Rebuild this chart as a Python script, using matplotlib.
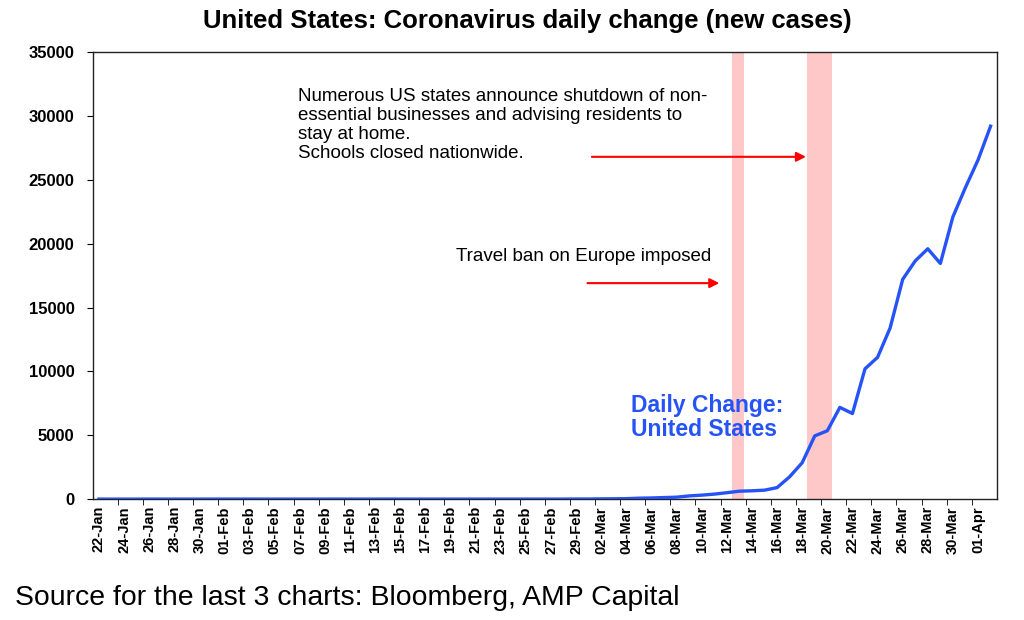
import numpy as np
import pandas as pd
from matplotlib import pyplot as plt

plt.rcParams['font.family'] = ['Liberation Sans', 'DejaVu Sans']

# dates 22-Jan .. 02-Apr 2020
dates = pd.date_range('2020-01-22', '2020-04-02', freq='D')
date_labels = [d.strftime('%d-%b') for d in dates]

# daily new cases
new_cases = [0, 0, 0, 0, 2, 0, 0, 0, 0, 1,
             1, 0, 3, 0, 0, 0, 0, 0, 0, 1,
             0, 0, 0, 1, 0, 0, 0, 0, 0, 0,
             0, 0, 0, 0, 0, 0, 0, 0, 8, 6,
             20, 25, 35, 70, 90, 120, 150, 250, 310, 390,
             500, 620, 650, 700, 900, 1750, 2850, 4950, 5350, 7180,
             6700, 10200, 11100, 13400, 17200, 18650, 19600, 18450, 22100, 24400,
             26550, 29200]

# shaded event periods (category positions)
band_start = [50.4, 56.35]
band_end = [51.35, 58.4]

blue = '#2553F5'

fig = plt.figure(figsize=(10.24, 6.2), dpi=100)
ax = fig.add_axes([0.0905, 0.195, 0.883, 0.721])

x = np.arange(len(new_cases))
for s, e in zip(band_start, band_end):
    ax.axvspan(s, e, color='#FFC8C8', lw=0, zorder=1)
ax.plot(x, new_cases, color=blue, lw=2.4, zorder=3)

ax.set_xlim(-0.5, len(new_cases) - 0.5)
ax.set_ylim(0, 35000)
ax.set_yticks(np.arange(0, 35001, 5000))
ax.tick_params(axis='y', direction='out', length=4, labelsize=12, pad=9)
for lab in ax.get_yticklabels():
    lab.set_fontweight('bold')

ax.set_xticks(x[::2])
ax.set_xticklabels(date_labels[::2], rotation=90, fontsize=10.5, fontweight='bold')
ax.set_xticks(np.arange(1.5, len(new_cases) - 1, 2), minor=True)
ax.tick_params(axis='x', which='major', length=0, pad=5)
ax.tick_params(axis='x', which='minor', direction='out', length=4)

for sp in ax.spines.values():
    sp.set_linewidth(1.0)
    sp.set_color('#222222')

ax.text(15.85, 29300,
        'Numerous US states announce shutdown of non-\n'
        'essential businesses and advising residents to\n'
        'stay at home.\nSchools closed nationwide.',
        fontsize=13.5, va='center', ha='left', linespacing=1.17)
ax.text(28.4, 19030, 'Travel ban on Europe imposed', fontsize=13.5,
        va='center', ha='left')
ax.text(42.4, 6400, 'Daily Change:\nUnited States', fontsize=16.5,
        fontweight='bold', color=blue, va='center', ha='left', linespacing=1.05)

arrow = dict(arrowstyle='-|>', color='red', lw=1.5, mutation_scale=14,
             shrinkA=0, shrinkB=0)
ax.annotate('', xy=(56.3, 26800), xytext=(39.25, 26800), arrowprops=arrow)
ax.annotate('', xy=(49.4, 16910), xytext=(38.9, 16910), arrowprops=arrow)

fig.text(0.515, 0.966, 'United States: Coronavirus daily change (new cases)',
         ha='center', va='center', fontsize=18.5, fontweight='bold')
fig.text(0.015, 1 - 598 / 620, 'Source for the last 3 charts: Bloomberg, AMP Capital',
         ha='left', va='center', fontsize=20.4)

fig.savefig('out.png', dpi=100)
